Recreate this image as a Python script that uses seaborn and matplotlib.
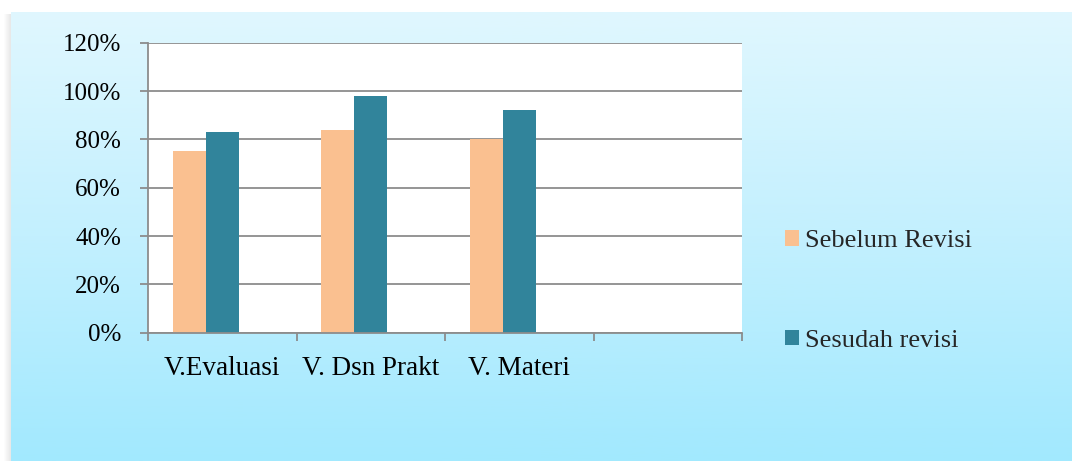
import numpy as np
import pandas as pd
import matplotlib
matplotlib.use("Agg")
import matplotlib.pyplot as plt
import seaborn as sns
from matplotlib.colors import LinearSegmentedColormap
from matplotlib.patches import Patch, Rectangle
from matplotlib.ticker import FixedLocator, FuncFormatter

# --- data -------------------------------------------------------------
categories = ["V.Evaluasi", "V. Dsn Prakt", "V. Materi"]
sebelum = [75, 84, 80]
sesudah = [83, 98, 92]
series_names = ["Sebelum Revisi", "Sesudah revisi"]
yticks = [0, 20, 40, 60, 80, 100, 120]

colors = {"Sebelum Revisi": "#FAC090", "Sesudah revisi": "#31849B", "_kosong": "#FFFFFF"}
grid_gray = "#8C8C8C"

sns.set_theme(style="white")
plt.rcParams["font.family"] = ["Liberation Serif", "DejaVu Serif"]
FS_Y = 18
FS_X = 19.5
FS = 19

W, H = 1072, 461
fig = plt.figure(figsize=(W / 100, H / 100), dpi=100)
fig.patch.set_facecolor("white")

# soft shadow along the left edge of the panel
for i, a in enumerate(np.linspace(0.02, 0.18, 7)):
    fig.add_artist(Rectangle(((4 + i) / W, 0), 1 / W, (H - 14) / H,
                             transform=fig.transFigure, color="#808080",
                             alpha=a, lw=0, zorder=0))

# light-blue gradient panel
bg = fig.add_axes([11 / W, 0, 1 - 11 / W, (H - 12) / H], zorder=0)
cmap = LinearSegmentedColormap.from_list("panel", ["#E0F7FE", "#C3F0FE", "#A2E9FE"])
bg.imshow(np.linspace(0, 1, 256)[:, None], aspect="auto", cmap=cmap,
          extent=[0, 1, 0, 1], origin="upper")
bg.axis("off")

# --- bars -------------------------------------------------------------
df = pd.DataFrame({
    "Kategori": categories * 2,
    "Seri": [s for s in series_names for _ in categories],
    "Nilai": sebelum + sesudah,
})

ax = fig.add_axes([148 / W, (H - 332.7) / H, (742 - 148) / W, 290 / H], zorder=1)
ax.set_facecolor("white")
sns.barplot(data=df, x="Kategori", y="Nilai", hue="Seri",
            hue_order=series_names + ["_kosong"], order=categories,
            palette=colors, width=0.667, saturation=1, linewidth=0,
            legend=False, ax=ax, zorder=2)

ax.set_xlim(-0.5, 3.5)
ax.set_ylim(0, 120)
ax.set_xlabel("")
ax.set_ylabel("")

# category boundaries carry the tick marks, names sit between them
ax.xaxis.set_major_locator(FixedLocator(np.arange(-0.5, 3.6, 1.0)))
ax.xaxis.set_major_formatter(FuncFormatter(lambda v, p: ""))
ax.xaxis.set_minor_locator(FixedLocator(range(len(categories))))
ax.set_xticklabels(categories, minor=True)
ax.tick_params(axis="x", which="major", direction="out", length=5.5, width=1.3,
               color=grid_gray, bottom=True)
ax.tick_params(axis="x", which="minor", length=0, pad=17, labelsize=FS_X,
               labelcolor="black", bottom=True)

ax.yaxis.set_major_locator(FixedLocator(yticks))
ax.yaxis.set_major_formatter(FuncFormatter(lambda v, p: f"{v:.0f}%"))
ax.tick_params(axis="y", direction="out", length=5.5, width=1.3, color=grid_gray,
               pad=14, labelsize=FS_Y, labelcolor="black", left=True)

ax.yaxis.grid(True, color=grid_gray, lw=1.3)
ax.set_axisbelow(True)
for side in ("top", "right"):
    ax.spines[side].set_visible(False)
for side in ("left", "bottom"):
    ax.spines[side].set_color(grid_gray)
    ax.spines[side].set_linewidth(1.3)

# --- legend -----------------------------------------------------------
handles = [Patch(facecolor=colors[s], edgecolor="none") for s in series_names]
fig.legend(handles, series_names, loc="center left",
           bbox_to_anchor=(785 / W, (H - 291) / H), frameon=False,
           fontsize=FS, handlelength=0.53, handleheight=0.53,
           handletextpad=0.23, labelspacing=2.95, borderpad=0, borderaxespad=0)

fig.savefig("out.png", dpi=100)
